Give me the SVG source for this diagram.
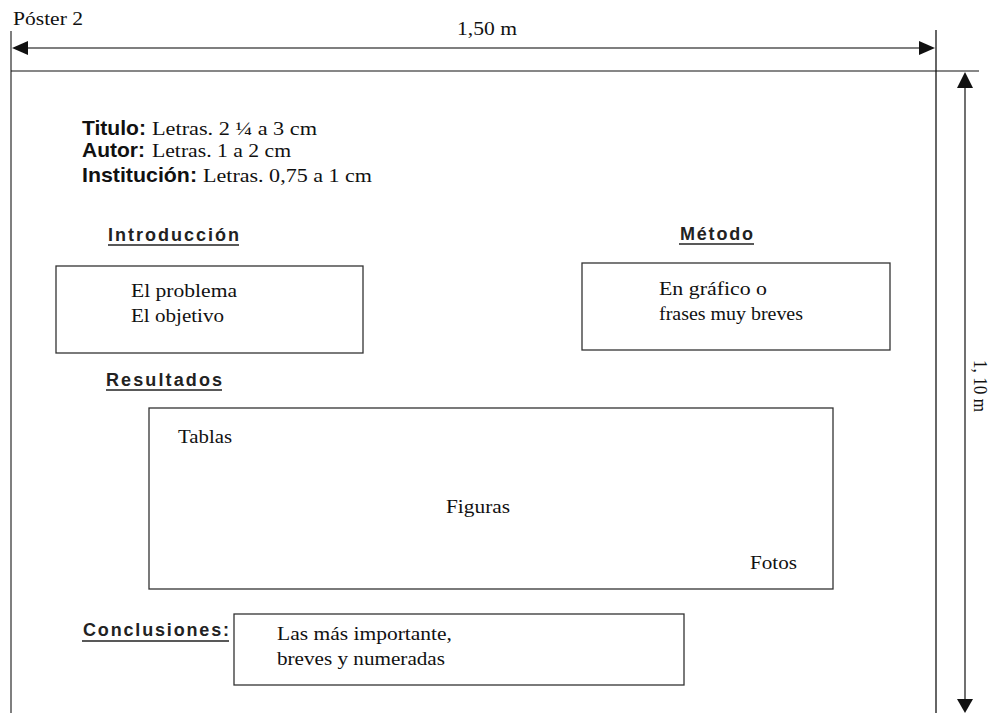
<svg xmlns="http://www.w3.org/2000/svg" width="992" height="713" viewBox="0 0 992 713">
<style>
.s{font-family:"Liberation Serif","Times New Roman",serif;font-size:18px;fill:#111}
.h{font-family:"Liberation Sans",Arial,sans-serif;font-weight:bold;font-size:18px;fill:#222}
.b{font-family:"Liberation Sans",Arial,sans-serif;font-weight:bold;font-size:20.5px;fill:#111}
.box{fill:#fff;stroke:#333;stroke-width:1.3}
.ul{stroke:#222;stroke-width:1.4}
</style>
<rect width="992" height="713" fill="#fff"/>
<g id="frame">
<line x1="11" y1="31" x2="11" y2="713" stroke="#555" stroke-width="1.5"/>
<line x1="936" y1="30" x2="936" y2="713" stroke="#666" stroke-width="2"/>
<line x1="11" y1="71" x2="979" y2="71" stroke="#111" stroke-width="1.2"/>
<text class="s" x="13" y="25" textLength="70" lengthAdjust="spacingAndGlyphs">Póster 2</text>
</g>
<g id="connectors">
<line x1="26" y1="48" x2="921" y2="48" stroke="#555" stroke-width="1.3"/>
<polygon points="12,48 28,41 28,55" fill="#111"/>
<polygon points="935,48 919,41 919,55" fill="#111"/>
<line x1="965" y1="86" x2="965" y2="700" stroke="#111" stroke-width="1.2"/>
<polygon points="965,72 957,88 973,88" fill="#111"/>
<polygon points="965,713 957,699 973,699" fill="#111"/>
</g>
<g id="dim-width"><text class="s" x="457" y="35" textLength="60" lengthAdjust="spacingAndGlyphs">1,50 m</text></g>
<g id="dim-height"><text class="s" transform="translate(974,360) rotate(90)" textLength="52" lengthAdjust="spacingAndGlyphs">1, 10 m</text></g>
<g id="header">
<text class="b" x="82" y="135" textLength="64" lengthAdjust="spacingAndGlyphs">Titulo:</text>
<text class="s" x="152" y="135" textLength="165" lengthAdjust="spacingAndGlyphs">Letras. 2 ¼ a 3 cm</text>
<text class="b" x="82" y="157" textLength="63" lengthAdjust="spacingAndGlyphs">Autor:</text>
<text class="s" x="152" y="157" textLength="139" lengthAdjust="spacingAndGlyphs">Letras. 1 a 2 cm</text>
<text class="b" x="82" y="182" textLength="115" lengthAdjust="spacingAndGlyphs">Institución:</text>
<text class="s" x="203" y="182" textLength="169" lengthAdjust="spacingAndGlyphs">Letras. 0,75 a 1 cm</text>
</g>
<g id="introduccion">
<text class="h" x="108" y="241" textLength="131" lengthAdjust="spacing">Introducción</text>
<line class="ul" x1="108" y1="245" x2="239" y2="245"/>
<rect class="box" x="56" y="266" width="307" height="87"/>
<text class="s" x="131" y="297" textLength="106" lengthAdjust="spacingAndGlyphs">El problema</text>
<text class="s" x="131" y="322" textLength="93" lengthAdjust="spacingAndGlyphs">El objetivo</text>
</g>
<g id="metodo">
<text class="h" x="680" y="240" textLength="73" lengthAdjust="spacing">Método</text>
<line class="ul" x1="679" y1="244" x2="754" y2="244"/>
<rect class="box" x="582" y="263" width="308" height="87"/>
<text class="s" x="659" y="295" textLength="108" lengthAdjust="spacingAndGlyphs">En gráfico o</text>
<text class="s" x="659" y="320" textLength="144" lengthAdjust="spacingAndGlyphs">frases muy breves</text>
</g>
<g id="resultados">
<text class="h" x="106" y="386" textLength="116" lengthAdjust="spacing">Resultados</text>
<line class="ul" x1="106" y1="390" x2="222" y2="390"/>
<rect class="box" x="149" y="408" width="684" height="181"/>
<text class="s" x="178" y="443" textLength="54" lengthAdjust="spacingAndGlyphs">Tablas</text>
<text class="s" x="446" y="513" textLength="64" lengthAdjust="spacingAndGlyphs">Figuras</text>
<text class="s" x="750" y="569" textLength="47" lengthAdjust="spacingAndGlyphs">Fotos</text>
</g>
<g id="conclusiones">
<text class="h" x="83" y="636" textLength="146" lengthAdjust="spacing">Conclusiones:</text>
<line class="ul" x1="82" y1="641" x2="229" y2="641"/>
<rect class="box" x="234" y="614" width="450" height="71"/>
<text class="s" x="277" y="640" textLength="175" lengthAdjust="spacingAndGlyphs">Las más importante,</text>
<text class="s" x="277" y="665" textLength="168" lengthAdjust="spacingAndGlyphs">breves y numeradas</text>
</g>
</svg>
